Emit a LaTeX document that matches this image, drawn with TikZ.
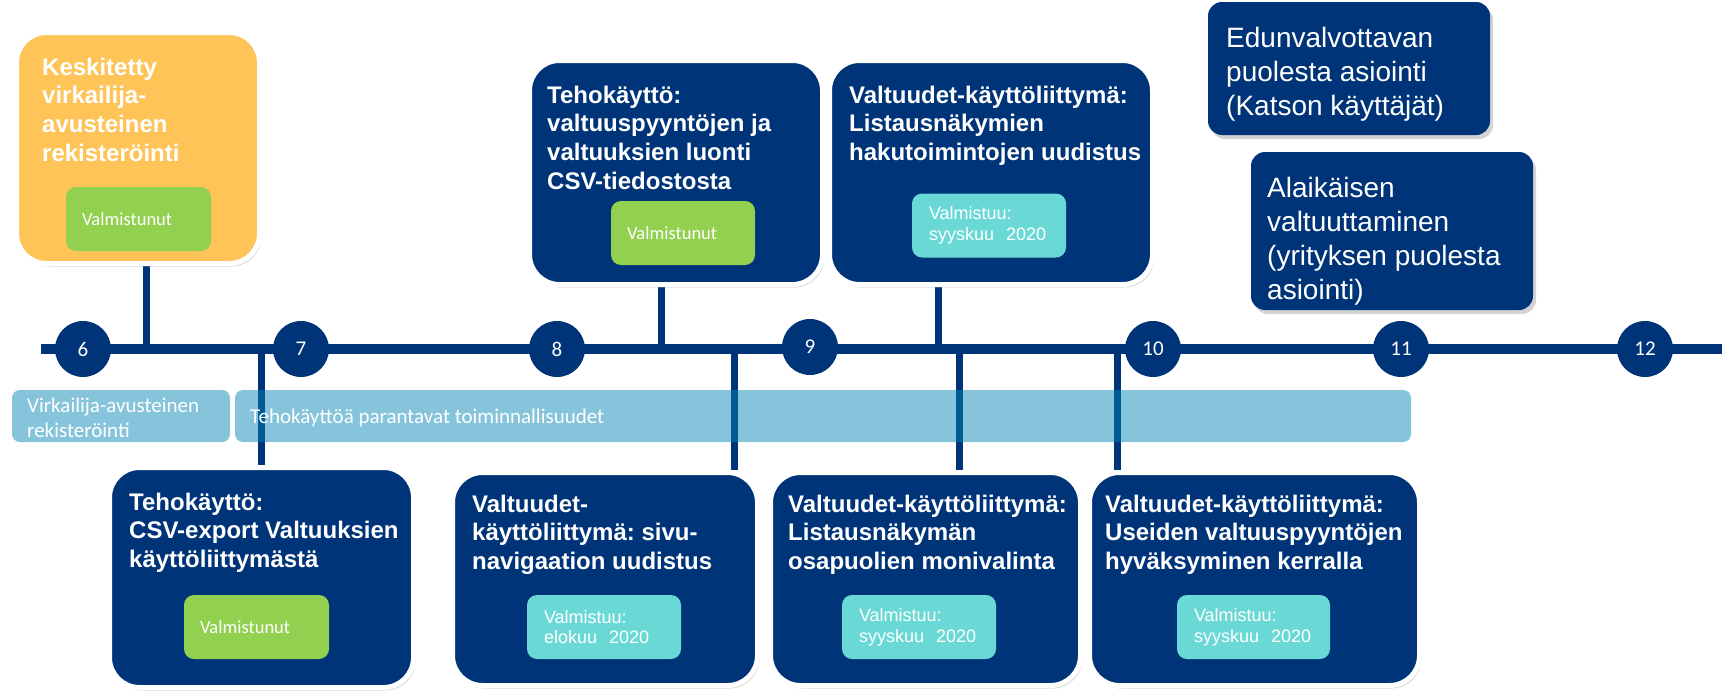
\documentclass[tikz,border=0pt]{standalone}
\usepackage{fontspec}
\setmainfont{Liberation Sans}
\newfontfamily\calib{Carlito}
\usetikzlibrary{shadows}
\definecolor{navy}{RGB}{0,52,120}
\definecolor{orangebox}{RGB}{254,196,88}
\definecolor{greenbox}{RGB}{146,208,80}
\definecolor{cyanbox}{RGB}{106,217,214}
\definecolor{barblue}{RGB}{0,132,178}
\newcommand\firstlnA{\rule{0pt}{20pt}}
\newcommand\firstlnB{\rule{0pt}{24pt}}
\newcommand\firstlnC{\rule{0pt}{17pt}}
\pgfdeclarelayer{bg}
\pgfsetlayers{bg,main}
\frenchspacing
\begin{document}
\begin{tikzpicture}[x=1pt,y=-1pt,
  box/.style={draw=white, line width=5pt, fill=navy, rounded corners=30pt, inner sep=0pt,
    drop shadow={shadow xshift=2pt, shadow yshift=-3pt, opacity=0.3}},
  flatbox/.style={fill=navy, rounded corners=14pt, inner sep=0pt,
    drop shadow={shadow xshift=3pt, shadow yshift=-4pt, opacity=0.35}},
  title/.style={anchor=north west, align=left, text=white, inner sep=0pt,
    font=\fontsize{24}{28.7}\selectfont\bfseries},
  plain/.style={anchor=north west, align=left, text=white, inner sep=0pt,
    font=\fontsize{28}{34}\selectfont},
  status/.style={rounded corners=10pt, inner ysep=0pt, minimum height=64pt, align=left, text=white},
  done/.style={status, fill=greenbox, inner xsep=16pt, font=\calib\fontsize{18.5}{22}\selectfont},
  soon/.style={status, fill=cyanbox, inner xsep=17pt, font=\fontsize{18}{20.7}\selectfont},
  month/.style={circle, fill=navy, minimum size=56pt, inner sep=0pt, text=white,
    font=\calib\fontsize{21}{24}\selectfont},
  bar/.style={rounded corners=8pt, fill=barblue, fill opacity=0.48, inner sep=0pt, minimum height=52pt},
  bartext/.style={align=left, text=white, inner sep=0pt,
    font=\calib\fontsize{21}{25}\selectfont},
  stem/.style={navy, line width=7pt},
  timeline/.style={navy, line width=9.5pt}
]
\useasboundingbox (0,0) rectangle (1722,691);

% month circles
\node[month] (m6) at (83,349) {6};
\node[month] (m7) at (301,349) {7};
\node[month] (m8) at (557,349) {8};
\node[month] (m9) at (810,347) {9};
\node[month] (m10) at (1153,349) {10};
\node[month] (m11) at (1401,349) {11};
\node[month] (m12) at (1645,349) {12};

% boxes
\node[box, fill=orangebox, minimum width=243pt, minimum height=231pt] (boxA) at (138,148) {};
\node[title] (tA) at (42,55) {\firstlnA Keskitetty\\virkailija-\\avusteinen\\rekisteröinti};
\node[done, text width=113pt] (sA) at (138.5,219) {Valmistunut};

\node[box, minimum width=304pt, minimum height=220pt] (boxB) at (261.5,577.5) {};
\node[title] (tB) at (129,490) {\firstlnA Tehokäyttö:\\CSV-export Valtuuksien\\käyttöliittymästä};
\node[done, text width=113pt] (sB) at (256.5,627) {Valmistunut};

\node[box, minimum width=293pt, minimum height=224pt] (boxC) at (676,172.5) {};
\node[title] (tC) at (547,83) {\firstlnA Tehokäyttö:\\valtuuspyyntöjen ja\\valtuuksien luonti\\CSV-tiedostosta};
\node[done, text width=112pt] (sC) at (683,233) {Valmistunut};

\node[box, minimum width=323pt, minimum height=224pt] (boxD) at (991,172.5) {};
\node[title] (tD) at (849,83) {\firstlnA Valtuudet-käyttöliittymä:\\Listausnäkymien\\hakutoimintojen uudistus};
\node[soon, text width=120pt] (sD) at (989,225.5) {Valmistuu:\\syyskuu\ \ 2020};

\node[box, minimum width=305pt, minimum height=213pt] (boxE) at (605,579) {};
\node[title] (tE) at (472,492) {\firstlnA Valtuudet-\\käyttöliittymä: sivu-\\navigaation uudistus};
\node[soon, text width=120pt] (sE) at (604,627) {Valmistuu:\\elokuu\ \ 2020};

\node[box, minimum width=310pt, minimum height=213pt] (boxF) at (925.5,579) {};
\node[title] (tF) at (788,492) {\firstlnA Valtuudet-käyttöliittymä:\\Listausnäkymän\\osapuolien monivalinta};
\node[soon, text width=120pt] (sF) at (919,627) {Valmistuu:\\syyskuu\ \ 2020};

\node[box, minimum width=330pt, minimum height=213pt] (boxG) at (1254.5,579) {};
\node[title] (tG) at (1105,492) {\firstlnA Valtuudet-käyttöliittymä:\\Useiden valtuuspyyntöjen\\hyväksyminen kerralla};
\node[soon, text width=119pt] (sG) at (1253.5,627) {Valmistuu:\\syyskuu\ \ 2020};

% top right plain boxes
\node[flatbox, minimum width=282pt, minimum height=133pt] (boxH) at (1349,68.5) {};
\node[plain] (tH) at (1226,23) {\firstlnB Edunvalvottavan\\puolesta asiointi\\(Katson käyttäjät)};
\node[flatbox, minimum width=282pt, minimum height=158pt] (boxI) at (1392,231) {};
\node[plain] (tI) at (1267,173) {\firstlnB Alaikäisen\\valtuuttaminen\\(yrityksen puolesta\\asiointi)};

% timeline and stems
\coordinate (tlstart) at (41,349);
\coordinate (tlend) at (1722,349);
\coordinate (jA) at (146,349);
\coordinate (jB) at (261,349);
\coordinate (jC) at (661,349);
\coordinate (jD) at (938,349);
\coordinate (jE) at (734,349);
\coordinate (jF) at (959,349);
\coordinate (jG) at (1117,349);
\begin{pgfonlayer}{bg}
\draw[timeline] (tlstart) -- (tlend);
\draw[stem] (jA) -- (jA |- boxA.south);
\draw[stem] (jB) -- (jB |- boxB.north);
\draw[stem] (jC) -- (jC |- boxC.south);
\draw[stem] (jD) -- (jD |- boxD.south);
\draw[stem] (jE) -- (jE |- boxE.north);
\draw[stem] (jF) -- (jF |- boxF.north);
\draw[stem] (jG) -- (jG |- boxG.north);
\end{pgfonlayer}

% bars
\node[bar, minimum width=218pt] (bar1) at (121,416) {};
\node[bar, minimum width=1176pt] (bar2) at (823,416) {};
\node[bartext, anchor=north west] (bt1) at (27,395) {\firstlnC Virkailija-avusteinen\\rekisteröinti};
\node[bartext, anchor=base west] (bt2) at (250,423) {Tehokäyttöä parantavat toiminnallisuudet};
\end{tikzpicture}
\end{document}
